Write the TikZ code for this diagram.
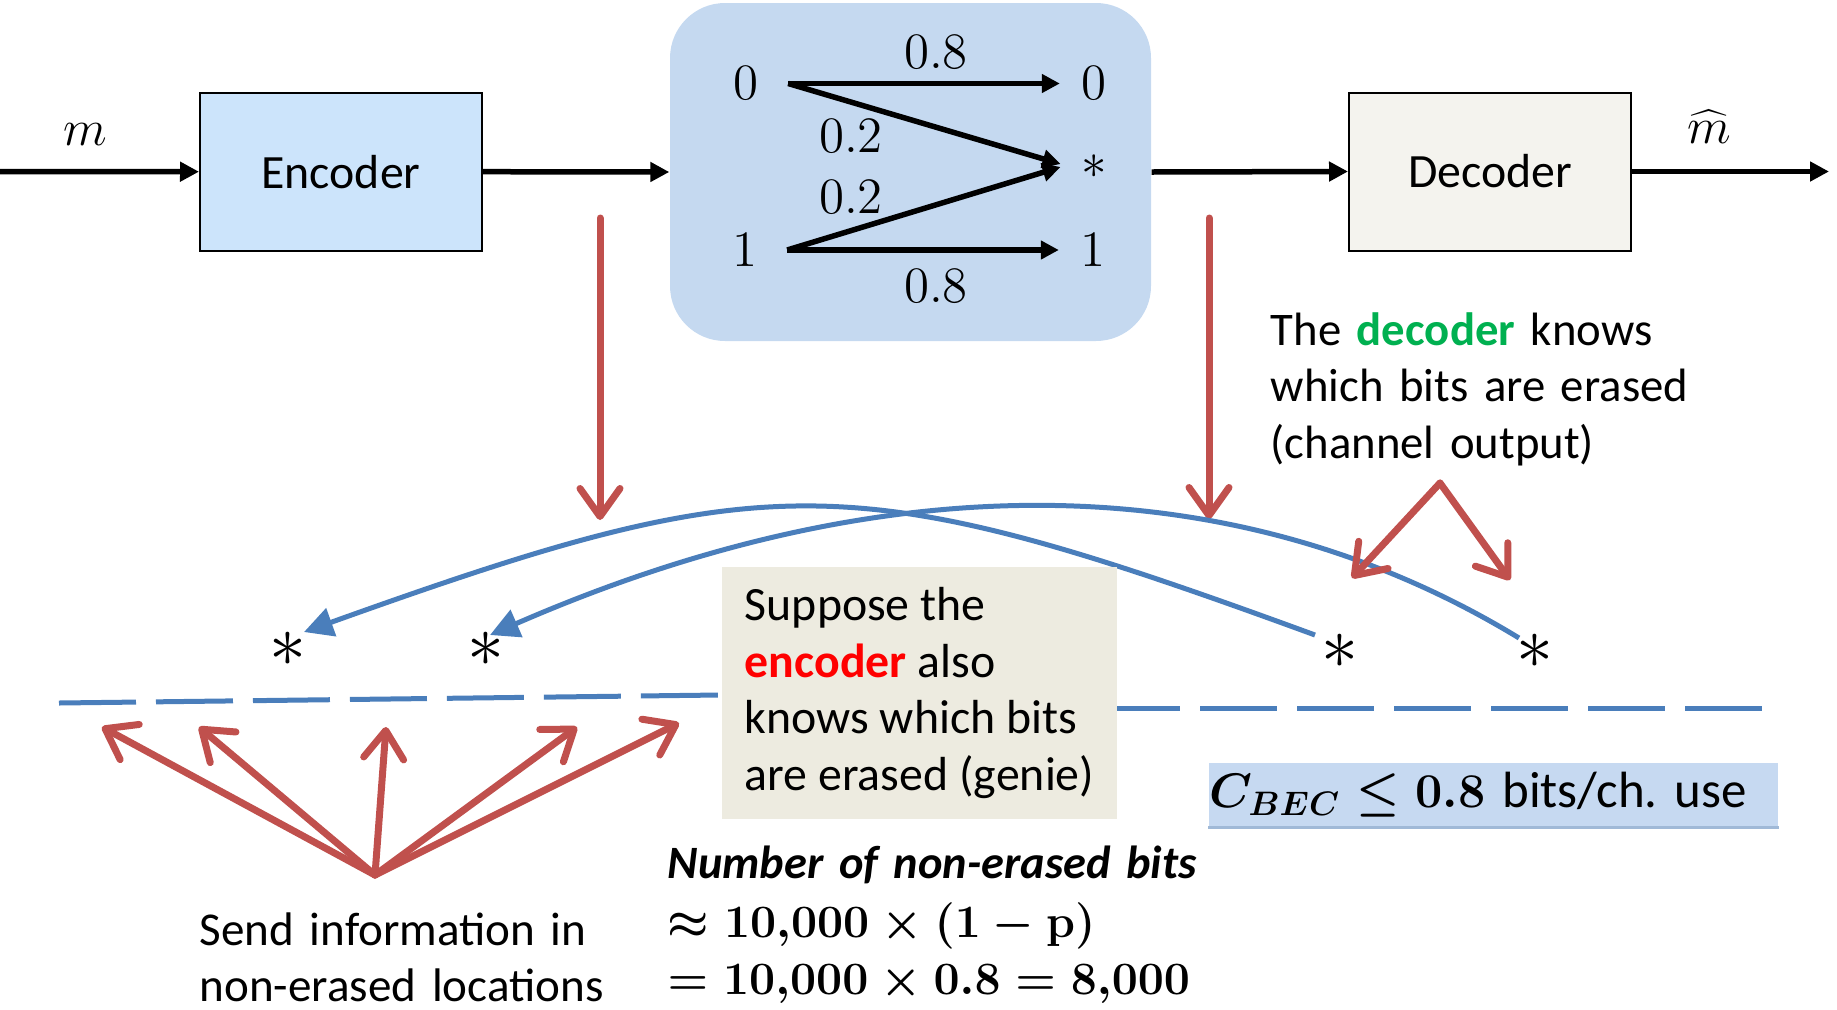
\RequirePackage{fix-cm}
\documentclass[tikz,border=0pt]{standalone}
\usepackage[no-math]{fontspec}
\setmainfont{Carlito}
\usetikzlibrary{arrows.meta}

\definecolor{encfill}{RGB}{204,228,251}
\definecolor{chanfill}{RGB}{197,217,240}
\definecolor{decfill}{RGB}{244,243,238}
\definecolor{notefill}{RGB}{237,235,224}
\definecolor{capfill}{RGB}{198,217,241}
\definecolor{capedge}{RGB}{160,185,215}
\definecolor{pointred}{RGB}{192,80,77}
\definecolor{arcblue}{RGB}{74,126,187}
\definecolor{decgreen}{RGB}{0,176,80}
\definecolor{encred}{RGB}{255,0,0}

\begin{document}
\begin{tikzpicture}[x=0.1mm, y=-0.1mm,
  sig/.style={line width=0.55mm, -{Triangle[length=1.9mm,width=1.9mm]}},
  chan/.style={line width=0.55mm, -{Triangle[length=1.8mm,width=1.8mm]}},
  block/.style={draw, line width=0.2mm, minimum width=28.2mm, minimum height=15.8mm,
    inner sep=0pt, font=\fontsize{13.6}{16.1}\selectfont},
  txt/.style={font=\fontsize{13.4}{16.1}\selectfont, inner sep=0pt, align=left},
  sym/.style={font=\fontsize{14.5}{17}\selectfont, inner sep=0pt},
  erasure/.style={font=\fontsize{21}{24}\selectfont, inner sep=0pt},
  pointer/.style={draw=pointred, line width=0.7mm, line cap=round,
    -{Straight Barb[length=2.8mm,width=4mm,round]}},
  swap/.style={draw=arcblue, line width=0.5mm, -{Triangle[length=2.9mm,width=2.9mm]}},
  slots/.style={draw=arcblue, line width=0.5mm, dash pattern=on 7.7mm off 2mm},
]
\useasboundingbox (0,0) rectangle (1837,1009);

% ---- transmission chain ----
\node[block, fill=encfill] (enc) at (341,171.7) {Encoder};
\node[block, fill=decfill] (dec) at (1490,171.5) {Decoder};
\node[fill=chanfill, rounded corners=5.5mm, minimum width=48.1mm, minimum height=33.8mm,
  inner sep=0pt] (chan) at (910.5,172) {};

\coordinate (src) at (0,171.5);
\coordinate (sink) at (1829,171.5);
\draw[sig] (src) -- (enc.west);
\draw[sig] (enc.east) -- (chan.west);
\draw[sig] (chan.east) -- (dec.west);
\draw[sig] (dec.east) -- (sink);

\node[sym, anchor=base] (m) at (85,145) {$m$};
\node[sym, anchor=base] (mhat) at (1709,143) {$\widehat{m}$};

% ---- binary erasure channel ----
\node[sym] (x0) at (746,83.5) {$0$};
\node[sym] (x1) at (745,250) {$1$};
\node[sym] (y0) at (1094,83.5) {$0$};
\node[sym] (ye) at (1094,167) {$*$};
\node[sym] (y1) at (1093,250) {$1$};

\draw[chan] ([xshift=2.9mm]x0.east) -- ([xshift=-2.1mm]y0.west);
\draw[chan] ([xshift=2.9mm]x0.east) -- ([xshift=-2mm,yshift=0.3mm]ye.west);
\draw[chan] ([xshift=2.9mm]x1.east) -- ([xshift=-2mm,yshift=0mm]ye.west);
\draw[chan] ([xshift=2.9mm]x1.east) -- ([xshift=-2.1mm]y1.west);

\node[sym, anchor=base] (p00) at (936,68) {$0.8$};
\node[sym, anchor=base] (p0e) at (851,152) {$0.2$};
\node[sym, anchor=base] (p1e) at (851,213) {$0.2$};
\node[sym, anchor=base] (p11) at (936,302) {$0.8$};

% ---- pointers down to the symbol stream ----
\coordinate (tapA) at (600,218);
\coordinate (hitA) at (600,520);
\coordinate (tapB) at (1209,218);
\coordinate (hitB) at (1209,519);
\draw[pointer] (tapA) -- (hitA);
\draw[pointer] (tapB) -- (hitB);

% ---- erased positions ----
\node[erasure] (e1) at (288,649) {$*$};
\node[erasure] (e2) at (486,649) {$*$};
\node[erasure] (e3) at (1340,651) {$*$};
\node[erasure] (e4) at (1535,651) {$*$};

\draw[swap] ([xshift=-2.5mm,yshift=1.6mm]e3.center)
  .. controls (851,465) and (770,465) .. ([xshift=1.6mm,yshift=1.7mm]e1.center);
\draw[swap] ([xshift=-1.6mm,yshift=1.3mm]e4.center)
  .. controls (1230,462) and (880,465) .. ([xshift=0.4mm,yshift=1.4mm]e2.center);

% ---- symbol slots ----
\coordinate (slotL0) at (59,703);
\coordinate (slotL1) at (720,695);
\coordinate (slotR0) at (1103,708);
\coordinate (slotR1) at (1766,708);
\draw[slots] (slotL0) -- (slotL1);
\draw[slots] (slotR0) -- (slotR1);

\node[txt, font=\fontsize{13.6}{16.1}\selectfont, fill=notefill, minimum width=39.5mm,
  minimum height=25.2mm] (note) at (919.5,693)
  {Suppose the\\ \textcolor{encred}{\textbf{encoder}} also\\ knows which bits\\ are erased (genie)};

% ---- non-erased locations ----
\coordinate (fan) at (375,875);
\foreach \x/\y [count=\i] in {102/727,199/727,386/727,577/727,679/723}{
  \coordinate (free\i) at (\x,\y);
  \draw[pointer] (fan) -- (free\i);
}

\coordinate (vtop) at (1440,483);
\coordinate (vleft) at (1352,578);
\coordinate (vright) at (1510,580);
\draw[pointer] (vtop) -- (vleft);
\draw[pointer] (vtop) -- (vright);

% ---- text ----
\node[txt, font=\fontsize{13.3}{16.1}\selectfont, anchor=base west, text width=48mm] (dnote) at (1270,345)
  {The \textcolor{decgreen}{\textbf{decoder}} knows\\ which bits are erased\\ (channel output)};
\node[txt, anchor=base west, text width=45mm] (send) at (199,945)
  {Send information in\\ non-erased locations};
\node[txt, anchor=base west, text width=60mm] (count) at (667,878)
  {{\fontsize{13.2}{16.1}\selectfont\textbf{\textit{Number of non-erased bits}}}\\[0.3mm]
   {\fontsize{13.2}{16.1}\selectfont\boldmath$\approx 10{,}000\times(1-\mathrm{p})$}\\
   {\fontsize{13.2}{16.1}\selectfont\boldmath$=10{,}000\times 0.8=8{,}000$}};

\node[fill=capfill, minimum width=56.9mm, minimum height=6.4mm, inner sep=0pt,
  text width=56.9mm, align=left, font=\fontsize{14.5}{17}\selectfont] (cap) at (1493.5,795)
  {{\fontsize{13.8}{17}\selectfont\boldmath$C_{BEC}\le 0.8$} bits/ch.\ use};
\draw[capedge, line width=0.25mm] (cap.south west) -- (cap.south east);

\end{tikzpicture}
\end{document}
